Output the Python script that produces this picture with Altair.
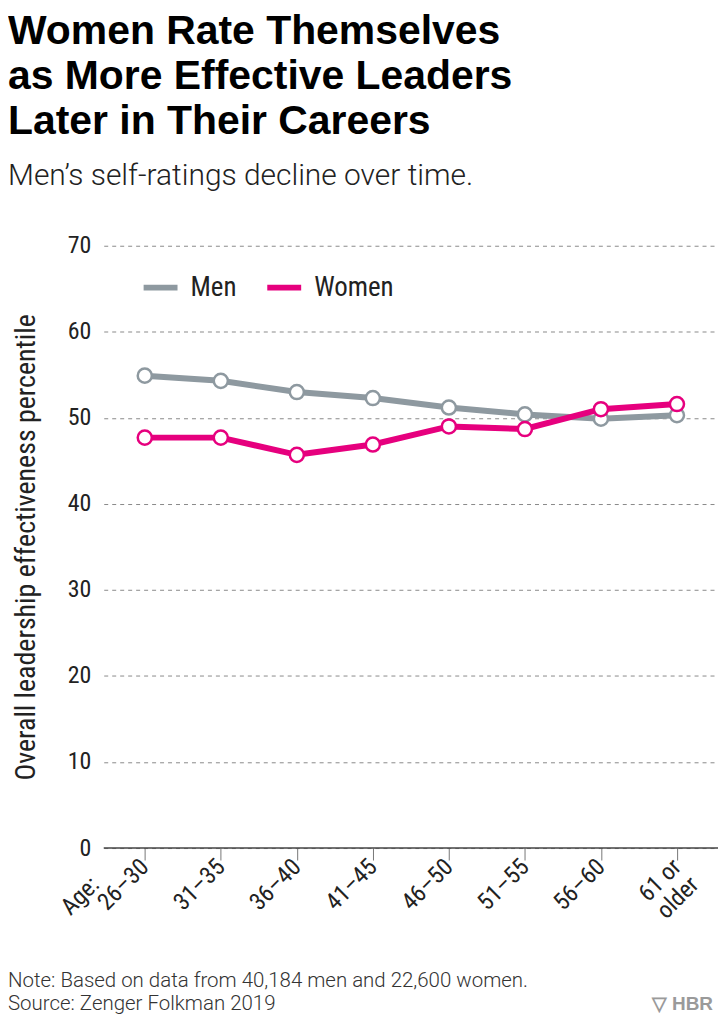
import altair as alt
import pandas as pd

# ---- data ----
ages = ["26–30", "31–35", "36–40", "41–45", "46–50", "51–55", "56–60", "61 or older"]
men = [54.9, 54.3, 53.0, 52.3, 51.2, 50.4, 49.9, 50.3]
women = [47.7, 47.7, 45.7, 46.9, 49.0, 48.7, 51.0, 51.6]
series = ["Men", "Women"]
colors = ["#8e99a0", "#e6007e"]
y_ticks = [0, 10, 20, 30, 40, 50, 60, 70]

title_lines = ["Women Rate Themselves", "as More Effective Leaders", "Later in Their Careers"]
subtitle = "Men’s self-ratings decline over time."
y_title = "Overall leadership effectiveness percentile"
age_prefix = "Age:"
note = "Note: Based on data from 40,184 men and 22,600 women."
source = "Source: Zenger Folkman 2019"
logo = "▽ HBR"

rows = []
for s, vals in zip(series, [men, women]):
    for a, v in zip(ages, vals):
        rows.append({"age": a, "group": s, "value": v})
df = pd.DataFrame(rows)

W, H = 616, 604
NARROW = "Liberation Sans Narrow, Arial Narrow, Roboto Condensed, Roboto, sans-serif"
LIGHT = "Roboto, Open Sans, sans-serif"
BOLD = "Liberation Sans, Arial, sans-serif"

x_enc = alt.X(
    "age:O",
    sort=ages,
    scale=alt.Scale(type="point", padding=0.54),
    axis=alt.Axis(
        title=None,
        domain=False,
        grid=False,
        ticks=True,
        tickSize=12,
        tickColor="#777",
        tickWidth=1,
        labelAngle=315,
        labelAlign="right",
        labelBaseline="middle",
        labelPadding=3,
        labelFont=NARROW,
        labelFontSize=24,
        labelColor="#222",
        labelLineHeight=25,
        labelExpr="datum.value == '61 or older' ? ['61 or', 'older'] : datum.label",
    ),
)
y_enc = alt.Y(
    "value:Q",
    scale=alt.Scale(domain=[0, 70], nice=False, zero=True),
    axis=alt.Axis(
        values=y_ticks,
        title=y_title,
        titleFont=NARROW,
        titleFontSize=28,
        titleFontWeight="normal",
        titleColor="#222",
        titleAngle=270,
        titleX=-69,
        titleY=H / 2,
        titleAlign="center",
        titleBaseline="alphabetic",
        domain=False,
        ticks=False,
        labelPadding=13,
        labelFont=NARROW,
        labelFontSize=24,
        labelColor="#222",
        grid=True,
        gridDash=[4, 4],
        gridColor="#8a8a8a",
        gridWidth=1,
    ),
)
color_scale = alt.Scale(domain=series, range=colors)

lines = alt.Chart(df).mark_line(strokeWidth=6).encode(
    x=x_enc,
    y=y_enc,
    color=alt.Color(
        "group:N",
        scale=color_scale,
        legend=alt.Legend(
            title=None,
            orient="none",
            legendX=37,
            legendY=22,
            direction="horizontal",
            symbolType="stroke",
            symbolSize=1156,
            symbolStrokeWidth=6,
            labelOffset=10,
            columnPadding=18,
            labelFont=NARROW,
            labelFontSize=27,
            labelColor="#222",
            padding=0,
        ),
    ),
    order=alt.Order("age:O"),
)

points = alt.Chart(df).mark_point(
    filled=False, fill="white", fillOpacity=1, size=200, strokeWidth=2.5, opacity=1
).encode(
    x=x_enc,
    y=y_enc,
    color=alt.Color("group:N", scale=color_scale, legend=None),
)

baseline = alt.Chart(pd.DataFrame({"v": [0]})).mark_rule(color="#444", strokeWidth=1.5).encode(
    y=alt.Y("v:Q"),
    x=alt.value(0),
    x2=alt.value(W),
)

age_df = pd.DataFrame({"age": [ages[0]], "t": [age_prefix]})
age_label = alt.Chart(age_df).mark_text(
    angle=315, align="right", baseline="middle", dx=-48, dy=-22,
    font=NARROW, fontSize=24, color="#222",
).encode(
    x=x_enc,
    y=alt.value(H + 15),
    text="t:N",
)

note_text = alt.Chart(pd.DataFrame({"t": [note]})).mark_text(
    align="left", baseline="alphabetic", font=LIGHT, fontSize=20.5, fontWeight=300, color="#333"
).encode(x=alt.value(-96), y=alt.value(H + 139), text="t:N")

source_text = alt.Chart(pd.DataFrame({"t": [source]})).mark_text(
    align="left", baseline="alphabetic", font=LIGHT, fontSize=20.5, fontWeight=300, color="#333"
).encode(x=alt.value(-96), y=alt.value(H + 162), text="t:N")

logo_text = alt.Chart(pd.DataFrame({"t": [logo]})).mark_text(
    align="right", baseline="alphabetic", font=BOLD, fontSize=19, fontWeight="bold", color="#9a9a9a"
).encode(x=alt.value(611), y=alt.value(H + 162), text="t:N")

chart = alt.layer(
    baseline, lines, points, age_label, note_text, source_text, logo_text
).properties(
    width=W,
    height=H,
    autosize=alt.AutoSizeParams(type="none"),
    padding={"left": 96, "top": 237, "right": 0, "bottom": 165},
    title=alt.TitleParams(
        text=title_lines,
        subtitle=[subtitle],
        anchor="start",
        frame="group",
        dx=-96,
        offset=42,
        font=BOLD,
        fontSize=41,
        fontWeight="bold",
        lineHeight=45,
        color="#000",
        subtitleFont=LIGHT,
        subtitleFontSize=30,
        subtitleFontWeight=300,
        subtitleColor="#222",
        subtitlePadding=18,
    ),
).configure(background="white").configure_view(strokeWidth=0)

chart.save("out.html", embed_options={"renderer": "svg", "actions": False})
